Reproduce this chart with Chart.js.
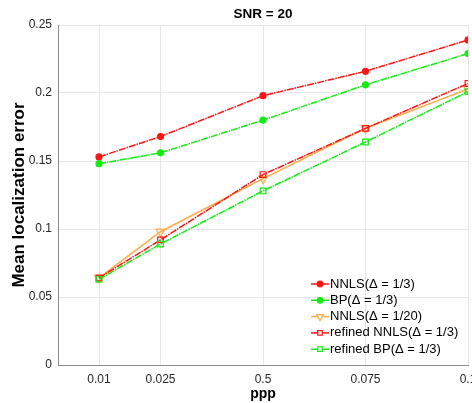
<!DOCTYPE html>
<html>
<head>
<meta charset="utf-8">
<script src="https://cdn.jsdelivr.net/npm/chart.js@4.4.1/dist/chart.umd.min.js"></script>
<style>
  html, body { margin: 0; padding: 0; background: #fff; overflow: hidden; }
  #wrap { width: 490px; height: 403px; }
</style>
</head>
<body>
<div id="wrap"><canvas id="snrChart" width="490" height="403"></canvas></div>
<script>
// ppp values (x positions) and the labels printed under them
const pppValues = [0.01, 0.025, 0.05, 0.075, 0.1];
const pppLabels = ['0.01', '0.025', '0.5', '0.075', '0.1'];

// Mean localization error per method
const nnls3       = [0.153, 0.168, 0.198, 0.216, 0.239];
const bp3         = [0.148, 0.156, 0.180, 0.206, 0.229];
const nnls20      = [0.064, 0.098, 0.137, 0.174, 0.203];
const refinedNnls = [0.064, 0.092, 0.140, 0.174, 0.207];
const refinedBp   = [0.063, 0.089, 0.128, 0.164, 0.201];

const yTicks = [0, 0.05, 0.1, 0.15, 0.2, 0.25];

const RED = 'rgb(255,20,20)';
const GREEN = 'rgb(20,235,20)';
const ORANGE = 'rgb(255,170,70)';
const dashDot = [7, 1, 1.5, 1];
const FONT = '"Liberation Sans", Arial, sans-serif';

function pts(values) {
  return values.map((v, i) => ({ x: pppValues[i], y: v }));
}

const series = [
  { label: 'NNLS(\u0394 = 1/3)', data: pts(nnls3), color: RED, style: 'circle', fill: true, r: 3, dash: dashDot, rot: 0 },
  { label: 'BP(\u0394 = 1/3)', data: pts(bp3), color: GREEN, style: 'circle', fill: true, r: 3, dash: dashDot, rot: 0 },
  { label: 'NNLS(\u0394 = 1/20)', data: pts(nnls20), color: ORANGE, style: 'triangle', fill: false, r: 5, dash: [], rot: 180 },
  { label: 'refined NNLS(\u0394 = 1/3)', data: pts(refinedNnls), color: RED, style: 'rect', fill: false, r: 4, dash: dashDot, rot: 0 },
  { label: 'refined BP(\u0394 = 1/3)', data: pts(refinedBp), color: GREEN, style: 'rect', fill: false, r: 4, dash: dashDot, rot: 0 }
];

// title centred over the plot area, not the whole canvas
const plotTitle = {
  id: 'plotTitle',
  afterDraw(chart) {
    const c = chart.ctx;
    const a = chart.chartArea;
    c.save();
    c.font = 'bold 13.5px ' + FONT;
    c.fillStyle = '#000';
    c.textAlign = 'center';
    c.textBaseline = 'middle';
    c.fillText('SNR = 20', (a.left + a.right) / 2, 14.5);
    c.restore();
  }
};

// legend drawn inside the plot, bottom right, like the MATLAB figure
const insideLegend = {
  id: 'insideLegend',
  afterDatasetsDraw(chart) {
    const c = chart.ctx;
    const x0 = 311, x1 = 329, tx = 330;
    let y = 284;
    c.save();
    c.font = '13px ' + FONT;
    c.textBaseline = 'middle';
    c.textAlign = 'left';
    series.forEach(s => {
      c.strokeStyle = s.color;
      c.lineWidth = 1.5;
      c.setLineDash([]);
      c.beginPath();
      c.moveTo(x0, y);
      c.lineTo(x1, y);
      c.stroke();
      c.lineWidth = 1.2;
      c.fillStyle = s.fill ? s.color : '#fff';
      Chart.helpers.drawPoint(c, {
        pointStyle: s.style, radius: s.style === 'circle' ? 2.8 : s.r * 0.8, rotation: s.rot, borderWidth: 1.2
      }, (x0 + x1) / 2, y);
      c.fillStyle = '#000';
      c.fillText(s.label, tx, y);
      y += 16.3;
    });
    c.restore();
  }
};

const ctx = document.getElementById('snrChart').getContext('2d');
const snrChart = new Chart(ctx, {
  type: 'line',
  data: {
    datasets: series.map((s, i) => ({
      label: s.label,
      data: s.data,
      borderColor: s.color,
      backgroundColor: s.fill ? s.color : 'rgba(255,255,255,0)',
      pointBorderColor: s.color,
      pointBackgroundColor: s.fill ? s.color : 'rgba(255,255,255,0)',
      pointStyle: s.style,
      pointRadius: s.r,
      pointRotation: s.rot,
      pointBorderWidth: 1.2,
      borderWidth: 1.5,
      borderDash: s.dash,
      tension: 0,
      fill: false,
      order: 5 - i
    }))
  },
  options: {
    responsive: false,
    animation: false,
    layout: { padding: { left: 0, right: 22, top: 25, bottom: 0 } },
    plugins: {
      legend: { display: false },
      tooltip: { enabled: false },
      title: { display: false }
    },
    scales: {
      x: {
        type: 'linear',
        min: 0,
        max: 0.1,
        afterBuildTicks: scale => { scale.ticks = pppValues.map(v => ({ value: v })); },
        afterFit: scale => { scale.height = 38; },
        ticks: {
          color: '#262626',
          font: { family: FONT, size: 12 },
          padding: 7,
          maxRotation: 0,
          autoSkip: false,
          callback: (v, i) => pppLabels[i]
        },
        grid: { color: '#e6e6e6', drawTicks: false },
        border: { color: '#8c8c8c' },
        title: {
          display: true,
          text: 'ppp',
          color: '#000',
          font: { family: FONT, size: 14, weight: 'bold' },
          padding: { top: 0, bottom: 0 }
        }
      },
      y: {
        min: 0,
        max: 0.25,
        afterBuildTicks: scale => { scale.ticks = yTicks.map(v => ({ value: v })); },
        afterFit: scale => { scale.width = 58; },
        ticks: {
          color: '#262626',
          font: { family: FONT, size: 12 },
          padding: 6,
          callback: v => String(Math.round(v * 100) / 100)
        },
        grid: { color: '#e6e6e6', drawTicks: false },
        border: { color: '#8c8c8c' },
        title: {
          display: true,
          text: 'Mean localization error',
          color: '#000',
          font: { family: FONT, size: 17, weight: 'bold' },
          padding: { top: 9, bottom: 0 }
        }
      }
    }
  },
  plugins: [plotTitle, insideLegend]
});
</script>
</body>
</html>
